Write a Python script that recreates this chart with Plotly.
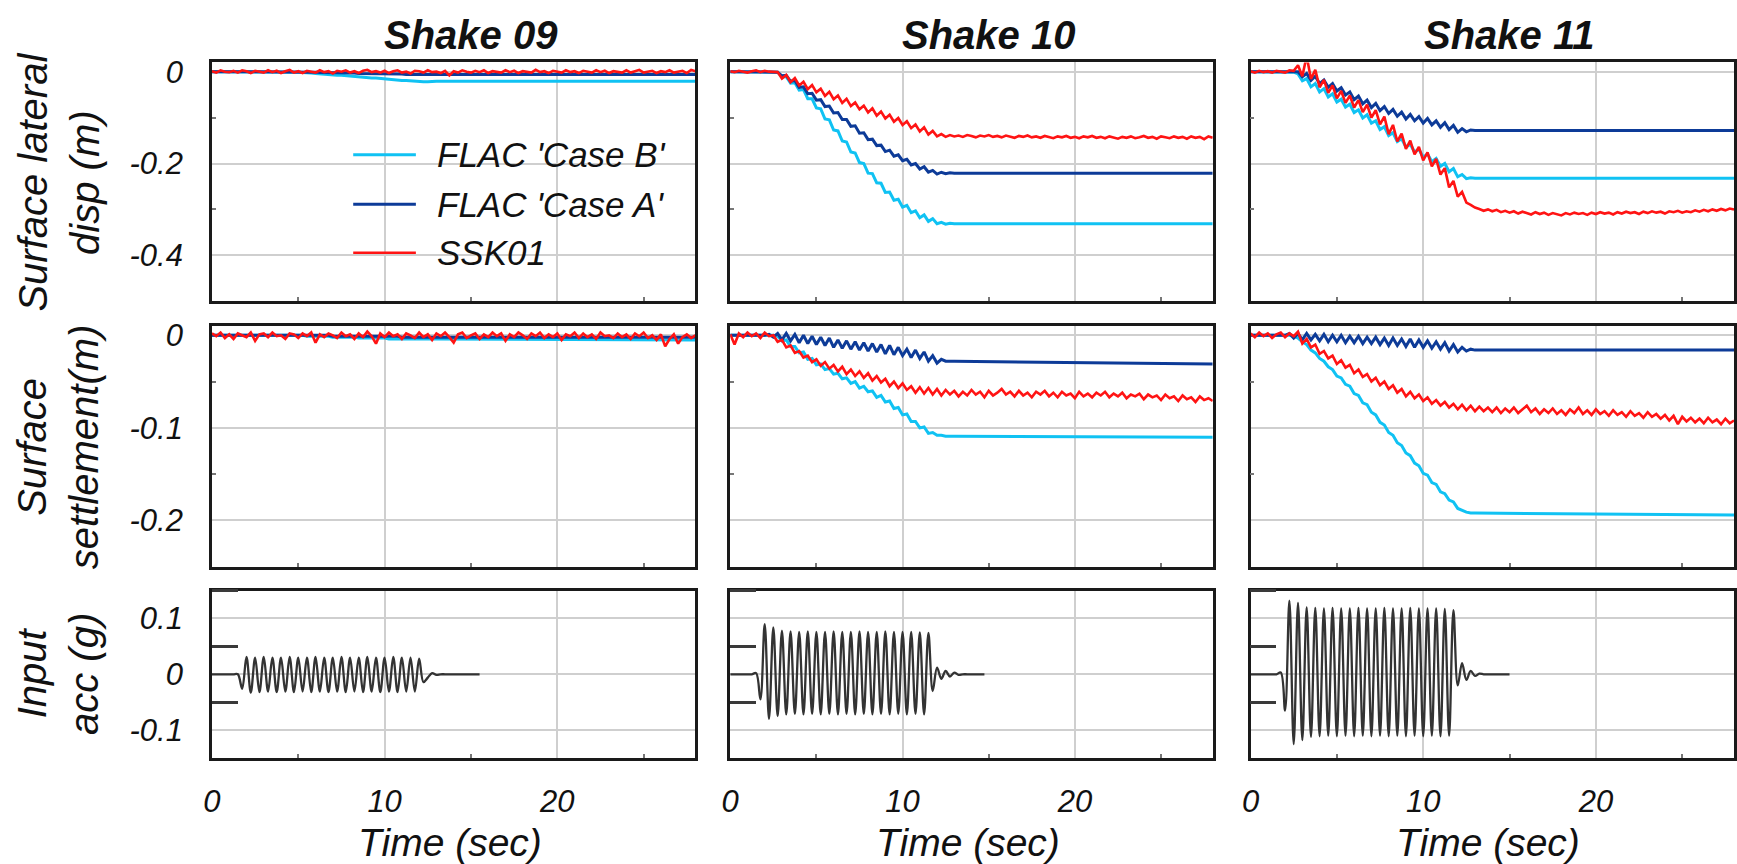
import plotly.graph_objects as go

# ---------------------------------------------------------------------------
# Records
# ---------------------------------------------------------------------------
DT = 0.25  # sampling step of the SSK01 and input-acceleration records (s)

SHAKES = ["Shake 09", "Shake 10", "Shake 11"]

# FLAC records are listed at 0 s, 1 s, every 0.25 s from 2 s to 13 s, and 28 s
FLAC_T = [0.0, 1.0] + [round(2.0 + DT * k, 2) for k in range(45)] + [28.0]

# --- Shake 09 ---------------------------------------------------------------
LAT_B_09 = [0.0, 0.0,
            0.0, 0.0, 0.0, 0.0,
            0.0, 0.0, 0.0, 0.0,
            0.0, 0.0, 0.0, 0.0,
            -0.001, -0.002, -0.002, -0.003,
            -0.004, -0.005, -0.005, -0.006,
            -0.007, -0.008, -0.008, -0.009,
            -0.010, -0.011, -0.011, -0.012,
            -0.013, -0.014, -0.014, -0.015,
            -0.016, -0.017, -0.017, -0.018,
            -0.019, -0.019, -0.020, -0.021,
            -0.021, -0.022, -0.022, -0.021,
            -0.021,
            -0.021]
LAT_A_09 = [0.0, 0.0,
            0.0, 0.0, 0.0, 0.0,
            0.0, 0.0, 0.0, 0.0,
            0.0, 0.0, 0.0, 0.0,
            0.000, -0.001, -0.001, -0.001,
            -0.001, -0.002, -0.002, -0.002,
            -0.002, -0.003, -0.003, -0.003,
            -0.003, -0.003, -0.004, -0.004,
            -0.004, -0.004, -0.004, -0.005,
            -0.005, -0.005, -0.005, -0.005,
            -0.005, -0.006, -0.006, -0.006,
            -0.006, -0.006, -0.006, -0.006,
            -0.006,
            -0.006]
SET_B_09 = [0.0, 0.0,
            0.0, 0.0, 0.0, 0.0,
            0.0, 0.0, 0.0, 0.0,
            0.0, 0.0, 0.0, 0.0,
            0.000, 0.000, -0.001, -0.001,
            -0.001, -0.001, -0.001, -0.001,
            -0.002, -0.002, -0.002, -0.002,
            -0.002, -0.002, -0.003, -0.003,
            -0.003, -0.003, -0.003, -0.003,
            -0.003, -0.004, -0.004, -0.004,
            -0.004, -0.004, -0.004, -0.004,
            -0.004, -0.004, -0.004, -0.004,
            -0.004,
            -0.005]
SET_A_09 = [0.0, 0.0,
            0.0, 0.0, 0.0, 0.0,
            0.0, 0.0, 0.0, 0.0,
            0.0, 0.0, 0.0, 0.0,
            0.0, 0.0, 0.0, 0.0,
            0.0, 0.0, 0.0, 0.0,
            -0.001, -0.001, -0.001, -0.001,
            -0.001, -0.001, -0.001, -0.001,
            -0.001, -0.001, -0.001, -0.001,
            -0.001, -0.001, -0.001, -0.001,
            -0.002, -0.002, -0.002, -0.002,
            -0.002, -0.002, -0.002, -0.002,
            -0.002,
            -0.002]
SSK_LAT_09 = [0.001, -0.002, 0.003, 0.000, -0.001, 0.002, -0.002, 0.003,
              0.001, -0.003, 0.002, 0.000, -0.002, 0.003, -0.001, 0.002,
              -0.003, 0.001, 0.004, -0.002, 0.001, -0.003, 0.002, 0.000,
              -0.002, 0.003, -0.001, 0.001, -0.004, 0.002, 0.000, 0.003,
              -0.002, 0.001, -0.003, 0.002, 0.004, -0.001, 0.001, -0.002,
              0.002, -0.003, 0.001, 0.003, -0.002, 0.000, -0.004, 0.002,
              0.001, -0.002, 0.003, -0.001, 0.000, -0.003, 0.002, -0.008,
              0.001, -0.002, 0.003, 0.000, -0.002, 0.002, -0.001, 0.003,
              -0.003, 0.001, 0.000, -0.002, 0.003, -0.001, 0.002, -0.003,
              0.001, 0.000, -0.002, 0.004, -0.001, 0.001, -0.003, 0.002,
              0.000, -0.002, 0.003, -0.001, 0.001, -0.003, 0.002, 0.000,
              -0.002, 0.003, -0.001, 0.002, -0.003, 0.001, 0.000, -0.002,
              0.003, -0.002, 0.001, 0.004, -0.002, 0.000, 0.002, -0.003,
              0.001, -0.001, 0.003, -0.002, 0.000, 0.002, -0.003, 0.004,
              0.001]
SSK_SET_09 = [0.002, -0.001, 0.003, -0.003, 0.001, -0.004, 0.002, 0.000,
              -0.002, 0.003, -0.006, 0.001, 0.002, -0.002, 0.003, -0.001,
              0.000, -0.004, 0.002, 0.001, -0.003, 0.002, -0.001, 0.003,
              -0.008, 0.001, -0.002, 0.002, 0.000, -0.003, 0.003, -0.001,
              0.001, -0.004, 0.002, -0.002, 0.004, -0.001, -0.009, 0.002,
              -0.002, 0.003, -0.001, 0.001, -0.004, 0.002, 0.000, -0.003,
              0.003, -0.002, 0.001, -0.005, 0.002, -0.001, 0.003, -0.002,
              -0.008, 0.001, 0.003, -0.003, 0.000, 0.002, -0.004, 0.001,
              -0.002, 0.003, -0.001, 0.002, -0.006, 0.001, -0.002, 0.003,
              0.000, -0.004, 0.002, -0.001, 0.003, -0.003, 0.001, -0.002,
              0.002, -0.005, 0.001, -0.001, 0.003, -0.003, 0.002, -0.002,
              0.001, -0.004, 0.003, -0.001, 0.000, -0.003, 0.002, -0.002,
              0.001, -0.004, 0.002, -0.001, 0.003, -0.003, 0.000, -0.005,
              0.001, -0.012, -0.004, 0.001, -0.009, -0.002, 0.001, -0.003,
              0.000]
ACC_09 = [0.0, 0.0, 0.0, 0.0, 0.0, 0.0,
          0.000, -0.026,
          0.031, -0.033, 0.030, -0.032,
          0.031, -0.031, 0.030, -0.032,
          0.030, -0.031, 0.031, -0.032,
          0.030, -0.031, 0.030, -0.032,
          0.031, -0.031, 0.030, -0.032,
          0.030, -0.031, 0.031, -0.032,
          0.030, -0.031, 0.030, -0.032,
          0.031, -0.031, 0.030, -0.032,
          0.030, -0.031, 0.031, -0.032,
          0.030, -0.031, 0.030, -0.031,
          0.028, -0.014, -0.006, 0.002,
          -0.001, 0.0, 0.0, 0.0,
          0.0, 0.0, 0.0, 0.0,
          0.0, 0.0, 0.0]

# --- Shake 10 ---------------------------------------------------------------
LAT_B_10 = [0.0, 0.0,
            0.000, 0.000, 0.000, -0.001,
            -0.011, -0.011, -0.025, -0.024,
            -0.040, -0.039, -0.059, -0.059,
            -0.079, -0.081, -0.103, -0.105,
            -0.127, -0.129, -0.151, -0.153,
            -0.175, -0.177, -0.198, -0.200,
            -0.221, -0.222, -0.242, -0.243,
            -0.263, -0.262, -0.280, -0.278,
            -0.295, -0.291, -0.307, -0.303,
            -0.318, -0.312, -0.326, -0.320,
            -0.331, -0.328, -0.332, -0.330,
            -0.331,
            -0.331]
LAT_A_10 = [0.0, 0.0,
            0.000, 0.000, 0.000, -0.001,
            -0.009, -0.008, -0.021, -0.019,
            -0.034, -0.033, -0.048, -0.047,
            -0.062, -0.061, -0.076, -0.075,
            -0.090, -0.089, -0.104, -0.104,
            -0.119, -0.118, -0.134, -0.133,
            -0.148, -0.147, -0.161, -0.160,
            -0.174, -0.171, -0.184, -0.181,
            -0.194, -0.191, -0.203, -0.200,
            -0.212, -0.207, -0.219, -0.215,
            -0.223, -0.219, -0.222, -0.220,
            -0.221,
            -0.221]
SET_B_10 = [0.0, 0.0,
            0.000, 0.000, 0.000, -0.001,
            -0.006, -0.005, -0.012, -0.012,
            -0.019, -0.018, -0.026, -0.025,
            -0.032, -0.031, -0.037, -0.036,
            -0.042, -0.041, -0.047, -0.046,
            -0.052, -0.050, -0.057, -0.055,
            -0.061, -0.060, -0.067, -0.065,
            -0.072, -0.071, -0.079, -0.078,
            -0.086, -0.085, -0.093, -0.093,
            -0.100, -0.099, -0.106, -0.105,
            -0.108, -0.108, -0.109, -0.109,
            -0.109,
            -0.110]
SET_A_10 = [0.0, 0.0,
            0.000, 0.001, -0.002, 0.002,
            -0.005, 0.002, -0.006, 0.001,
            -0.008, 0.000, -0.009, -0.001,
            -0.010, -0.002, -0.011, -0.003,
            -0.013, -0.005, -0.014, -0.006,
            -0.015, -0.007, -0.016, -0.008,
            -0.017, -0.009, -0.018, -0.010,
            -0.020, -0.011, -0.021, -0.013,
            -0.022, -0.015, -0.024, -0.016,
            -0.025, -0.018, -0.028, -0.022,
            -0.030, -0.026, -0.028, -0.028,
            -0.028,
            -0.031]
SSK_LAT_10 = [0.001, -0.001, 0.002, 0.000, -0.002, 0.001, 0.003, -0.001,
              0.002, 0.000, -0.001, -0.001, -0.015, -0.007, -0.023, -0.014,
              -0.030, -0.022, -0.038, -0.029, -0.045, -0.037, -0.053, -0.044,
              -0.060, -0.052, -0.068, -0.059, -0.075, -0.067, -0.082, -0.074,
              -0.089, -0.080, -0.096, -0.087, -0.102, -0.094, -0.109, -0.101,
              -0.116, -0.108, -0.123, -0.115, -0.130, -0.121, -0.137, -0.129,
              -0.141, -0.136, -0.142, -0.138, -0.141, -0.139, -0.142, -0.138,
              -0.140, -0.143, -0.139, -0.141, -0.138, -0.142, -0.140, -0.143,
              -0.139, -0.141, -0.144, -0.140, -0.142, -0.139, -0.143, -0.141,
              -0.144, -0.140, -0.142, -0.145, -0.141, -0.143, -0.140, -0.144,
              -0.142, -0.145, -0.141, -0.143, -0.140, -0.144, -0.142, -0.145,
              -0.141, -0.143, -0.146, -0.142, -0.144, -0.141, -0.145, -0.143,
              -0.140, -0.144, -0.142, -0.146, -0.141, -0.143, -0.145, -0.141,
              -0.144, -0.142, -0.146, -0.141, -0.144, -0.142, -0.147, -0.141,
              -0.144]
SSK_SET_10 = [0.001, -0.010, 0.002, -0.002, 0.003, -0.001, 0.002, -0.003,
              0.003, -0.001, 0.000, -0.007, -0.005, -0.013, -0.011, -0.019,
              -0.017, -0.024, -0.022, -0.029, -0.026, -0.033, -0.029, -0.036,
              -0.032, -0.039, -0.034, -0.042, -0.037, -0.044, -0.039, -0.046,
              -0.041, -0.049, -0.044, -0.051, -0.047, -0.055, -0.050, -0.057,
              -0.052, -0.059, -0.055, -0.062, -0.056, -0.063, -0.057, -0.064,
              -0.058, -0.065, -0.059, -0.064, -0.060, -0.066, -0.061, -0.065,
              -0.059, -0.064, -0.061, -0.067, -0.060, -0.065, -0.062, -0.058,
              -0.064, -0.061, -0.066, -0.060, -0.065, -0.062, -0.067, -0.061,
              -0.064, -0.060, -0.066, -0.062, -0.067, -0.061, -0.065, -0.063,
              -0.068, -0.061, -0.066, -0.063, -0.067, -0.062, -0.065, -0.061,
              -0.067, -0.063, -0.066, -0.062, -0.068, -0.064, -0.066, -0.063,
              -0.069, -0.064, -0.067, -0.065, -0.070, -0.064, -0.068, -0.066,
              -0.071, -0.065, -0.069, -0.067, -0.072, -0.066, -0.070, -0.068,
              -0.071]
ACC_10 = [0.0, 0.0, 0.0, 0.0, 0.0, 0.0,
          0.002, -0.045,
          0.090, -0.080, 0.084, -0.075,
          0.078, -0.072, 0.077, -0.071,
          0.076, -0.072, 0.077, -0.071,
          0.076, -0.072, 0.076, -0.071,
          0.077, -0.072, 0.076, -0.071,
          0.076, -0.072, 0.077, -0.071,
          0.076, -0.072, 0.076, -0.071,
          0.077, -0.072, 0.076, -0.071,
          0.076, -0.072, 0.076, -0.071,
          0.075, -0.072, 0.074, -0.030,
          0.012, -0.008, 0.006, -0.004,
          0.003, -0.001, 0.0, 0.0,
          0.0, 0.0, 0.0, 0.0]

# --- Shake 11 ---------------------------------------------------------------
LAT_B_11 = [0.0, 0.0,
            0.000, 0.000, -0.001, -0.005,
            -0.020, -0.015, -0.033, -0.026,
            -0.044, -0.037, -0.055, -0.048,
            -0.066, -0.060, -0.077, -0.071,
            -0.089, -0.083, -0.101, -0.094,
            -0.112, -0.107, -0.126, -0.120,
            -0.139, -0.133, -0.152, -0.146,
            -0.164, -0.158, -0.175, -0.169,
            -0.186, -0.179, -0.196, -0.189,
            -0.206, -0.200, -0.218, -0.211,
            -0.229, -0.224, -0.233, -0.231,
            -0.232,
            -0.232]
LAT_A_11 = [0.0, 0.0,
            0.000, 0.000, 0.000, 0.000,
            -0.011, -0.004, -0.019, -0.010,
            -0.026, -0.018, -0.034, -0.026,
            -0.042, -0.035, -0.051, -0.044,
            -0.061, -0.053, -0.070, -0.062,
            -0.078, -0.069, -0.085, -0.076,
            -0.091, -0.082, -0.097, -0.088,
            -0.103, -0.093, -0.107, -0.098,
            -0.112, -0.102, -0.116, -0.107,
            -0.121, -0.111, -0.126, -0.117,
            -0.132, -0.124, -0.131, -0.127,
            -0.128,
            -0.128]
SET_B_11 = [0.0, 0.0,
            0.000, 0.000, -0.001, -0.003,
            -0.007, -0.010, -0.016, -0.019,
            -0.025, -0.028, -0.034, -0.037,
            -0.044, -0.046, -0.053, -0.055,
            -0.063, -0.065, -0.073, -0.075,
            -0.083, -0.086, -0.094, -0.097,
            -0.105, -0.108, -0.116, -0.119,
            -0.127, -0.130, -0.138, -0.141,
            -0.149, -0.151, -0.159, -0.161,
            -0.169, -0.171, -0.178, -0.180,
            -0.187, -0.189, -0.191, -0.192,
            -0.192,
            -0.194]
SET_A_11 = [0.0, 0.0,
            0.000, 0.002, -0.003, 0.002,
            -0.005, 0.002, -0.005, 0.001,
            -0.006, 0.001, -0.007, 0.000,
            -0.007, 0.000, -0.008, -0.001,
            -0.008, -0.001, -0.009, -0.002,
            -0.009, -0.002, -0.010, -0.003,
            -0.011, -0.003, -0.011, -0.004,
            -0.012, -0.004, -0.013, -0.005,
            -0.013, -0.006, -0.014, -0.007,
            -0.015, -0.008, -0.017, -0.010,
            -0.018, -0.013, -0.017, -0.015,
            -0.016,
            -0.016]
SSK_LAT_11 = [0.001, -0.002, 0.002, -0.001, 0.001, -0.002, 0.002, 0.000,
              -0.002, 0.003, 0.002, 0.014, -0.010, 0.034, -0.016, 0.004,
              -0.034, -0.018, -0.046, -0.030, -0.058, -0.042, -0.068, -0.052,
              -0.078, -0.062, -0.088, -0.072, -0.100, -0.084, -0.115, -0.098,
              -0.136, -0.116, -0.152, -0.135, -0.168, -0.150, -0.180, -0.164,
              -0.193, -0.176, -0.206, -0.190, -0.224, -0.210, -0.252, -0.238,
              -0.272, -0.262, -0.285, -0.290, -0.296, -0.299, -0.303, -0.300,
              -0.304, -0.301, -0.306, -0.303, -0.307, -0.304, -0.309, -0.305,
              -0.308, -0.311, -0.306, -0.310, -0.307, -0.312, -0.308, -0.311,
              -0.313, -0.308, -0.311, -0.307, -0.310, -0.308, -0.312, -0.307,
              -0.310, -0.306, -0.309, -0.307, -0.311, -0.306, -0.309, -0.305,
              -0.308, -0.306, -0.310, -0.305, -0.308, -0.304, -0.307, -0.305,
              -0.309, -0.304, -0.306, -0.303, -0.307, -0.304, -0.306, -0.302,
              -0.305, -0.301, -0.304, -0.300, -0.303, -0.299, -0.302, -0.298,
              -0.300]
SSK_SET_11 = [0.002, -0.002, 0.003, -0.001, 0.002, -0.003, 0.001, 0.003,
              -0.002, 0.002, -0.001, 0.004, -0.009, -0.004, -0.013, -0.010,
              -0.020, -0.017, -0.025, -0.022, -0.031, -0.027, -0.035, -0.032,
              -0.041, -0.037, -0.045, -0.042, -0.050, -0.046, -0.054, -0.050,
              -0.058, -0.054, -0.062, -0.058, -0.066, -0.061, -0.068, -0.064,
              -0.071, -0.067, -0.074, -0.070, -0.076, -0.072, -0.078, -0.074,
              -0.080, -0.075, -0.081, -0.076, -0.082, -0.077, -0.082, -0.078,
              -0.083, -0.078, -0.084, -0.079, -0.083, -0.078, -0.084, -0.080,
              -0.076, -0.083, -0.079, -0.085, -0.080, -0.084, -0.079, -0.085,
              -0.081, -0.086, -0.080, -0.084, -0.078, -0.085, -0.081, -0.086,
              -0.080, -0.085, -0.082, -0.087, -0.081, -0.086, -0.083, -0.088,
              -0.082, -0.087, -0.084, -0.089, -0.083, -0.088, -0.085, -0.090,
              -0.086, -0.092, -0.087, -0.096, -0.088, -0.093, -0.089, -0.094,
              -0.090, -0.095, -0.089, -0.094, -0.091, -0.096, -0.090, -0.095,
              -0.092]
ACC_11 = [0.0, 0.0, 0.0, 0.0, 0.0, 0.0, 0.0,
          0.003, -0.065,
          0.132, -0.125, 0.128, -0.118,
          0.120, -0.112, 0.119, -0.111,
          0.118, -0.110, 0.119, -0.111,
          0.118, -0.110, 0.118, -0.111,
          0.119, -0.110, 0.118, -0.111,
          0.118, -0.110, 0.119, -0.111,
          0.118, -0.110, 0.118, -0.111,
          0.119, -0.110, 0.118, -0.111,
          0.118, -0.110, 0.118, -0.111,
          0.117, -0.110, 0.115, -0.020,
          0.020, -0.010, 0.006, -0.003,
          0.001, 0.0, 0.0, 0.0,
          0.0, 0.0, 0.0, 0.0]

CASE_B = [(LAT_B_09, SET_B_09), (LAT_B_10, SET_B_10), (LAT_B_11, SET_B_11)]
CASE_A = [(LAT_A_09, SET_A_09), (LAT_A_10, SET_A_10), (LAT_A_11, SET_A_11)]
SSK01 = [(SSK_LAT_09, SSK_SET_09), (SSK_LAT_10, SSK_SET_10), (SSK_LAT_11, SSK_SET_11)]
ACC = [ACC_09, ACC_10, ACC_11]

SERIES_NAMES = ["FLAC 'Case B'", "FLAC 'Case A'", "SSK01"]
ROW_TITLES = ["Surface lateral<br>disp (m)", "Surface<br>settlement(m)", "Input<br>acc (g)"]

Y_RANGES = [[-0.5, 0.02], [-0.25, 0.01], [-0.15, 0.15]]
Y_TICKS = [[0, -0.2, -0.4], [0, -0.1, -0.2], [0.1, 0, -0.1]]
Y_TICKTEXT = [["0", "-0.2", "-0.4"], ["0", "-0.1", "-0.2"], ["0.1", "0", "-0.1"]]
Y_MINOR = [[-0.1, -0.3], [-0.05, -0.15], [0.15, 0.05, -0.05]]
X_TICKS = [0, 10, 20]
X_MINOR = [5, 15, 25]

# ---------------------------------------------------------------------------
# Styling
# ---------------------------------------------------------------------------
W, H = 1737, 864
FONT = "Liberation Sans, Arial, Helvetica, sans-serif"
COLORS = ["#10c2f3", "#0d3b98", "#ff1414"]
WIDTHS = [3.0, 3.0, 2.6]
ACC_COLOR = "#333333"
GRID = "#cfcfcf"
FRAME = "#1a1a1a"
TEXT = "#111111"

COL_PX = [(204, 690), (725, 1210), (1248, 1734)]
ROW_PX = [(55, 296), (321, 564), (588, 757)]


def x_dom(c):
    a, b = COL_PX[c]
    return [a / W, b / W]


def y_dom(r):
    a, b = ROW_PX[r]
    return [1 - b / H, 1 - a / H]


def sample_times(values):
    return [round(DT * i, 2) for i in range(len(values))]


fig = go.Figure()

for c in range(3):
    for r in range(2):
        n = r * 3 + c + 1
        series = [CASE_B[c][r], CASE_A[c][r], SSK01[c][r]]
        for k, vals in enumerate(series):
            xs = FLAC_T if k < 2 else sample_times(vals)
            fig.add_trace(go.Scatter(
                x=xs, y=vals, mode="lines", name=SERIES_NAMES[k],
                line=dict(color=COLORS[k], width=WIDTHS[k]),
                xaxis=f"x{n}", yaxis=f"y{n}", showlegend=False,
            ))
    n = 6 + c + 1
    fig.add_trace(go.Scatter(
        x=sample_times(ACC[c]), y=ACC[c], mode="lines", name="Input acc",
        line=dict(color=ACC_COLOR, width=2.3, shape="spline", smoothing=1.0),
        xaxis=f"x{n}", yaxis=f"y{n}", showlegend=False,
    ))

layout = dict(
    width=W, height=H,
    margin=dict(l=0, r=0, t=0, b=0),
    paper_bgcolor="white", plot_bgcolor="white",
    showlegend=False,
    font=dict(family=FONT, color=TEXT),
)

tick_font = dict(family=FONT, size=31, style="italic", color=TEXT)

for r in range(3):
    for c in range(3):
        n = r * 3 + c + 1
        layout[f"xaxis{n}"] = dict(
            domain=x_dom(c), anchor=f"y{n}", range=[0, 28],
            tickmode="array", tickvals=X_TICKS, ticktext=[str(v) for v in X_TICKS],
            showticklabels=(r == 2), ticks="", ticklabelstandoff=14,
            tickfont=tick_font,
            showgrid=True, gridcolor=GRID, gridwidth=1.6, zeroline=False,
            showline=True, mirror=True, linecolor=FRAME, linewidth=2.6,
            minor=dict(tickmode="array", tickvals=X_MINOR, ticks="inside",
                       ticklen=4, tickwidth=1.5, tickcolor="#777777", showgrid=False),
            fixedrange=True,
        )
        if r == 2:
            y_minor = dict(tickmode="array", tickvals=Y_MINOR[r], ticks="inside",
                           ticklen=26, tickwidth=2.6, tickcolor="#3a3a3a", showgrid=False)
        else:
            y_minor = dict(tickmode="array", tickvals=Y_MINOR[r], ticks="inside",
                           ticklen=4, tickwidth=1.5, tickcolor="#777777", showgrid=False)
        layout[f"yaxis{n}"] = dict(
            domain=y_dom(r), anchor=f"x{n}", range=Y_RANGES[r],
            tickmode="array", tickvals=Y_TICKS[r], ticktext=Y_TICKTEXT[r],
            showticklabels=(c == 0), ticks="", ticklabelstandoff=20,
            tickfont=tick_font,
            showgrid=True, gridcolor=GRID, gridwidth=1.6, zeroline=False,
            showline=True, mirror=True, linecolor=FRAME, linewidth=2.6,
            minor=y_minor,
            fixedrange=True,
        )

annotations = []
# Column headings and time labels
for c, name in enumerate(SHAKES):
    a, b = COL_PX[c]
    annotations.append(dict(
        text=name, x=((a + b) / 2 + 17) / W, y=1 - 27 / H,
        xref="paper", yref="paper", xanchor="center", yanchor="middle",
        showarrow=False,
        font=dict(family=FONT, size=40, style="italic", weight="bold", color=TEXT),
    ))
    annotations.append(dict(
        text="Time (sec)", x=((a + b) / 2 - 4) / W, y=1 - 842 / H,
        xref="paper", yref="paper", xanchor="center", yanchor="middle",
        showarrow=False,
        font=dict(family=FONT, size=39, style="italic", color=TEXT),
    ))
# Row titles
for r, title in enumerate(ROW_TITLES):
    a, b = ROW_PX[r]
    annotations.append(dict(
        text=title, x=50 / W, y=1 - (a + b) / 2 / H, textangle=-90,
        xref="paper", yref="paper", xanchor="center", yanchor="middle",
        showarrow=False,
        font=dict(family=FONT, size=40, style="italic", color=TEXT),
    ))

# Legend inside the first panel
shapes = []
LEG_Y = [148, 198, 247]
for k, name in enumerate(SERIES_NAMES):
    yk = 1 - LEG_Y[k] / H
    shapes.append(dict(type="line", xref="paper", yref="paper",
                       x0=346 / W, x1=409 / W, y0=yk, y1=yk,
                       line=dict(color=COLORS[k], width=WIDTHS[k])))
    annotations.append(dict(
        text=name, x=428 / W, y=yk, xref="paper", yref="paper",
        xanchor="left", yanchor="middle", showarrow=False,
        font=dict(family=FONT, size=35, style="italic", color=TEXT),
    ))

layout["annotations"] = annotations
layout["shapes"] = shapes
fig.update_layout(**layout)

fig.write_html("out.html", config={"displayModeBar": False})
